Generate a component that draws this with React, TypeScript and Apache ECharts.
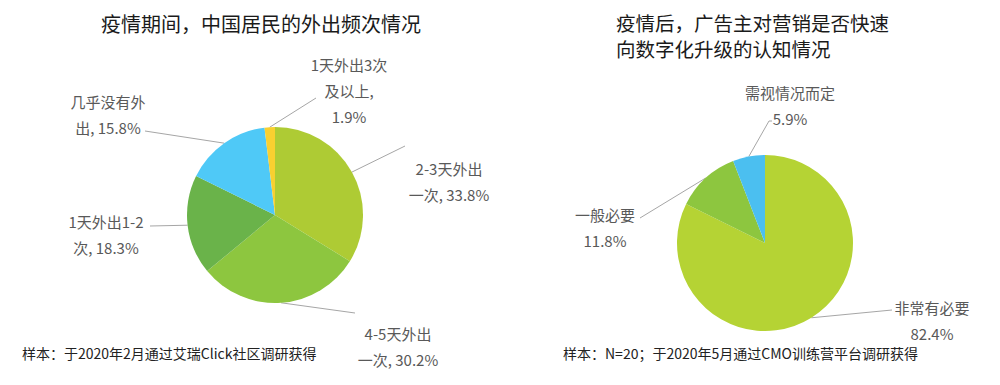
import React, { useEffect, useRef } from "react";
import * as echarts from "echarts";

// ---- Data ----
const leftTitle = "疫情期间，中国居民的外出频次情况";
const leftNames = ["2-3天外出一次", "4-5天外出一次", "1天外出1-2次", "几乎没有外出", "1天外出3次及以上"];
const leftValues = [33.8, 30.2, 18.3, 15.8, 1.9];
const leftLabelTexts = ["2-3天外出\n一次, 33.8%", "4-5天外出\n一次, 30.2%", "1天外出1-2\n次, 18.3%", "几乎没有外\n出, 15.8%", "1天外出3次\n及以上,\n1.9%"];
const leftColors = ["#AECB34", "#8DC63F", "#6AB34A", "#4FC9F7", "#F8D030"];
const leftNote = "样本：于2020年2月通过艾瑞Click社区调研获得";

const rightTitle1 = "疫情后，广告主对营销是否快速";
const rightTitle2 = "向数字化升级的认知情况";
const rightNames = ["非常有必要", "一般必要", "需视情况而定"];
const rightValues = [82.4, 11.8, 5.9];
const rightColors = ["#B5D334", "#8DC63F", "#4BBFF0"];
const rightNote = "样本：N=20；于2020年5月通过CMO训练营平台调研获得";

// ---- Label layout (label centres and label-line end points) ----
const leftLabelPos = [[449, 181], [398, 346], [106, 234], [108, 114], [349, 90]];
const leftLineEnd = [[[405, 146]], [[355, 313]], [[150, 226]], [[145, 131]], [[316, 98]]];
const rightLabelPos = [[932, 320], [605, 227], [790, 105]];
const rightLineEnd = [[[892, 310]], [[640, 218]], [[769, 121], [772, 121]]];

const FONT = "'Noto Sans CJK SC', 'Microsoft YaHei', sans-serif";

export default function App() {
  const ref = useRef<HTMLDivElement>(null);
  useEffect(() => {
    document.body.style.margin = "0";
    const chart = echarts.init(ref.current!, null, { renderer: "svg" });
    const labelStyle = {
      show: true,
      position: "outside",
      color: "#595959",
      fontSize: 15,
      lineHeight: 26,
      fontFamily: FONT,
      align: "center",
    };
    const labelLine = { show: true, length: 10, length2: 10, lineStyle: { color: "#a6a6a6", width: 1 } };
    const makeLayout = (pos: number[][], ends: number[][][]) => (params: any) => {
      const i = params.dataIndex;
      const start = params.labelLinePoints ? params.labelLinePoints[0] : null;
      const res: any = {
        x: pos[i][0],
        y: pos[i][1],
        align: "center",
        verticalAlign: "middle",
      };
      if (start) res.labelLinePoints = [start, ...ends[i]];
      return res;
    };
    const titleStyle = { fontSize: 19.5, fontFamily: FONT, fill: "#1a1a1a", verticalAlign: "middle" };
    chart.setOption({
      animation: false,
      backgroundColor: "#ffffff",
      graphic: [
        { type: "text", x: 261, y: 23, style: { ...titleStyle, text: leftTitle, fontSize: 20, align: "center" } },
        { type: "text", x: 616, y: 22, style: { ...titleStyle, text: rightTitle1, align: "left" } },
        { type: "text", x: 616, y: 48, style: { ...titleStyle, text: rightTitle2, align: "left" } },
        { type: "text", x: 22, y: 353, style: { text: leftNote, fontSize: 14, fontFamily: FONT, fill: "#222", align: "left", verticalAlign: "middle" } },
        { type: "text", x: 563, y: 353, style: { text: rightNote, fontSize: 14, fontFamily: FONT, fill: "#222", align: "left", verticalAlign: "middle" } },
      ],
      series: [
        {
          type: "pie",
          center: [275, 215],
          radius: 88,
          startAngle: 90,
          clockwise: true,
          silent: true,
          avoidLabelOverlap: false,
          label: { ...labelStyle, formatter: (p: any) => leftLabelTexts[p.dataIndex] },
          labelLine,
          labelLayout: makeLayout(leftLabelPos, leftLineEnd),
          data: leftNames.map((n, i) => ({ name: n, value: leftValues[i], itemStyle: { color: leftColors[i] } })),
        },
        {
          type: "pie",
          center: [765, 243],
          radius: 88,
          startAngle: 90,
          clockwise: true,
          silent: true,
          avoidLabelOverlap: false,
          label: { ...labelStyle, formatter: (p: any) => `${p.name}\n${p.value}%` },
          labelLine,
          labelLayout: makeLayout(rightLabelPos, rightLineEnd),
          data: rightNames.map((n, i) => ({ name: n, value: rightValues[i], itemStyle: { color: rightColors[i] } })),
        },
      ],
    });
    return () => chart.dispose();
  }, []);
  return <div ref={ref} style={{ width: 1000, height: 385 }} />;
}
